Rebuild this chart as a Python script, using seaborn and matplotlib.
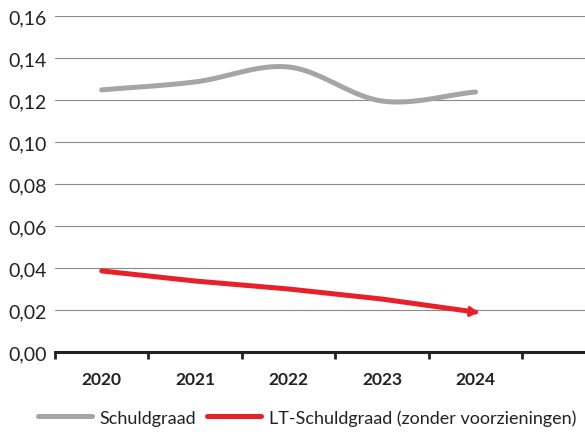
import numpy as np
import pandas as pd
import matplotlib
matplotlib.use("Agg")
import matplotlib.pyplot as plt
from matplotlib.ticker import FuncFormatter, FixedLocator
import seaborn as sns

years = ["2020", "2021", "2022", "2023", "2024"]
schuldgraad = [0.1248, 0.1286, 0.1357, 0.1195, 0.1238]
lt_schuldgraad = [0.0386, 0.0338, 0.0300, 0.0252, 0.0190]


def smooth_path(y, steps=30):
    # Catmull-Rom path through the points, like Excel's smoothed line
    y = np.asarray(y, dtype=float)
    p = np.concatenate([[2 * y[0] - y[1]], y, [2 * y[-1] - y[-2]]])
    xs, ys = [], []
    for i in range(1, len(p) - 2):
        t = np.linspace(0, 1, steps, endpoint=False)
        p0, p1, p2, p3 = p[i - 1], p[i], p[i + 1], p[i + 2]
        yy = 0.5 * ((2 * p1) + (-p0 + p2) * t + (2 * p0 - 5 * p1 + 4 * p2 - p3) * t ** 2
                    + (-p0 + 3 * p1 - 3 * p2 + p3) * t ** 3)
        xs.extend(i - 1 + t)
        ys.extend(yy)
    xs.append(len(y) - 1)
    ys.append(y[-1])
    return np.array(xs), np.array(ys)


sns.set_style("white")
plt.rcParams["font.family"] = ["Lato", "DejaVu Sans"]

fig = plt.figure(figsize=(5.85, 4.35), dpi=100)
ax = fig.add_axes([0.094, 0.1885, 0.906, 0.7725])

gray = "#a5a5a5"
red = "#e8202a"

sx, sy = smooth_path(schuldgraad)
sns.lineplot(x=sx, y=sy, ax=ax, color=gray, linewidth=3.6, label="Schuldgraad",
             solid_capstyle="round")
xi = np.arange(len(years))
sns.lineplot(x=xi, y=lt_schuldgraad, ax=ax, color=red, linewidth=3.6,
             label="LT-Schuldgraad (zonder voorzieningen)", solid_capstyle="round")
ax.annotate("", xy=(xi[-1] + 0.06, lt_schuldgraad[-1] - 0.0003),
            xytext=(xi[-1] - 0.1, lt_schuldgraad[-1] + 0.0004),
            arrowprops=dict(arrowstyle="-|>,head_length=0.5,head_width=0.3",
                            color=red, lw=2))

ax.set_ylim(0, 0.16)
ax.set_xlim(-0.5, 5.17)
ax.set_yticks(np.arange(0, 0.161, 0.02))
ax.yaxis.set_major_formatter(FuncFormatter(lambda v, p: f"{v:.2f}".replace(".", ",")))
ax.set_xticks(xi)
ax.set_xticklabels(years, fontweight="bold")
ax.xaxis.set_minor_locator(FixedLocator(np.arange(-0.5, 5.0, 1.0)))
ax.tick_params(axis="x", which="major", bottom=True, length=0, labelsize=12.5, pad=14,
               colors="#222222")
ax.tick_params(axis="x", which="minor", bottom=True, length=5, width=2, direction="out",
               colors="#222222")
ax.tick_params(axis="y", length=0, labelsize=14, pad=6, colors="#222222")

ax.grid(axis="y", color="#8a8a8a", linewidth=0.8)
for s in ["top", "right", "left"]:
    ax.spines[s].set_visible(False)
ax.spines["bottom"].set_color("#222222")
ax.spines["bottom"].set_linewidth(2.2)
ax.set_zorder(1)

ax.legend_.remove()
handles, labels = ax.get_legend_handles_labels()
fig.legend(handles, labels, loc="center", bbox_to_anchor=(0.525, 0.038), ncol=2,
           frameon=False, fontsize=13, handlelength=3.0, columnspacing=0.6,
           handletextpad=0.4, labelcolor="#222222")

fig.savefig("out.png", dpi=100)
